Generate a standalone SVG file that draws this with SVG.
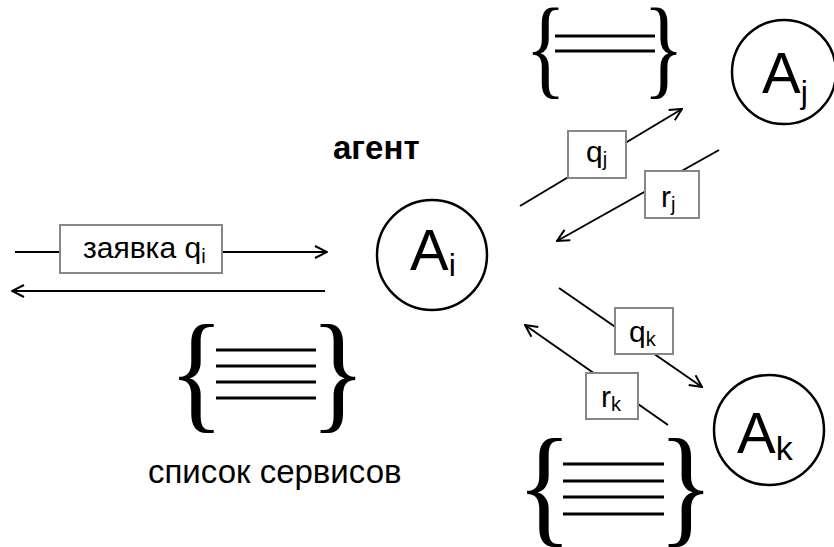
<svg xmlns="http://www.w3.org/2000/svg" width="834" height="547" viewBox="0 0 834 547">
<defs>
<marker id="arr" viewBox="0 0 14 14" refX="13" refY="7" markerWidth="14" markerHeight="14" markerUnits="userSpaceOnUse" orient="auto">
<path d="M1,1 L13,7 L1,13" fill="none" stroke="#000" stroke-width="2"/>
</marker>
<style>
.ln{stroke:#000;stroke-width:2;fill:none}
.lbl{fill:#fff;stroke:#878787;stroke-width:2}
.t{font-family:"Liberation Sans",Arial,sans-serif;fill:#000}
.br{font-family:"Liberation Serif","Times New Roman",serif;fill:#000}
.node{fill:#fff;stroke:#000;stroke-width:2.5}
.bar{stroke:#000;stroke-width:3}
</style>
</defs>
<rect width="834" height="547" fill="#fff"/>

<g id="connectors">
<line class="ln" x1="15" y1="252" x2="327" y2="252" marker-end="url(#arr)"/>
<line class="ln" x1="325" y1="291" x2="12" y2="291" marker-end="url(#arr)"/>
<line class="ln" x1="520" y1="206" x2="682" y2="109" marker-end="url(#arr)"/>
<line class="ln" x1="719" y1="150" x2="557" y2="241" marker-end="url(#arr)"/>
<line class="ln" x1="559" y1="288" x2="702" y2="387" marker-end="url(#arr)"/>
<line class="ln" x1="668" y1="425" x2="525" y2="325" marker-end="url(#arr)"/>
</g>

<g id="label-request">
<rect class="lbl" x="60" y="225" width="162" height="48"/>
<text class="t" x="83" y="258" font-size="30">заявка q<tspan font-size="20" dy="5">i</tspan></text>
</g>
<g id="label-qj">
<rect class="lbl" x="568" y="131" width="58" height="47"/>
<text class="t" x="586" y="162" font-size="30">q<tspan font-size="20" dy="4">j</tspan></text>
</g>
<g id="label-rj">
<rect class="lbl" x="645" y="171" width="54" height="47"/>
<text class="t" x="661" y="207" font-size="30">r<tspan font-size="20" dy="4">j</tspan></text>
</g>
<g id="label-qk">
<rect class="lbl" x="615" y="308" width="58" height="46"/>
<text class="t" x="629" y="342" font-size="30">q<tspan font-size="20" dy="4">k</tspan></text>
</g>
<g id="label-rk">
<rect class="lbl" x="586" y="373" width="52" height="46"/>
<text class="t" x="601" y="407" font-size="30">r<tspan font-size="20" dy="4">k</tspan></text>
</g>

<g id="node-Ai">
<circle class="node" cx="432" cy="255" r="55"/>
<text class="t" x="410" y="270" font-size="58">A<tspan font-size="32" dy="6">i</tspan></text>
</g>
<g id="node-Aj">
<circle class="node" cx="784" cy="72" r="52"/>
<text class="t" x="762" y="93" font-size="58">A<tspan font-size="32" dy="10">j</tspan></text>
</g>
<g id="node-Ak">
<circle class="node" cx="769" cy="430" r="55"/>
<text class="t" x="737" y="453" font-size="58">A<tspan font-size="34" dy="7">k</tspan></text>
</g>

<g id="title-agent">
<text class="t" x="333" y="159" font-size="33" font-weight="bold">агент</text>
</g>

<g id="services-i">
<text class="br" transform="translate(168.5,415) scale(0.88,1)" font-size="132">{</text>
<line class="bar" x1="216" y1="350" x2="316" y2="350"/>
<line class="bar" x1="216" y1="366" x2="316" y2="366"/>
<line class="bar" x1="216" y1="382" x2="316" y2="382"/>
<line class="bar" x1="216" y1="398" x2="316" y2="398"/>
<text class="br" transform="translate(310,415) scale(0.88,1)" font-size="132">}</text>
<text class="t" x="148" y="483" font-size="33">список сервисов</text>
</g>

<g id="services-j">
<text class="br" transform="translate(525,84) scale(0.78,1)" font-size="110">{</text>
<line class="bar" x1="555" y1="36" x2="655" y2="36"/>
<line class="bar" x1="555" y1="51" x2="655" y2="51"/>
<text class="br" transform="translate(643,84) scale(0.78,1)" font-size="110">}</text>
</g>

<g id="services-k">
<text class="br" transform="translate(516.5,529) scale(0.88,1)" font-size="132">{</text>
<line class="bar" x1="563" y1="464" x2="664" y2="464"/>
<line class="bar" x1="563" y1="481" x2="664" y2="481"/>
<line class="bar" x1="563" y1="497" x2="664" y2="497"/>
<line class="bar" x1="563" y1="514" x2="664" y2="514"/>
<text class="br" transform="translate(658,529) scale(0.88,1)" font-size="132">}</text>
</g>
</svg>
